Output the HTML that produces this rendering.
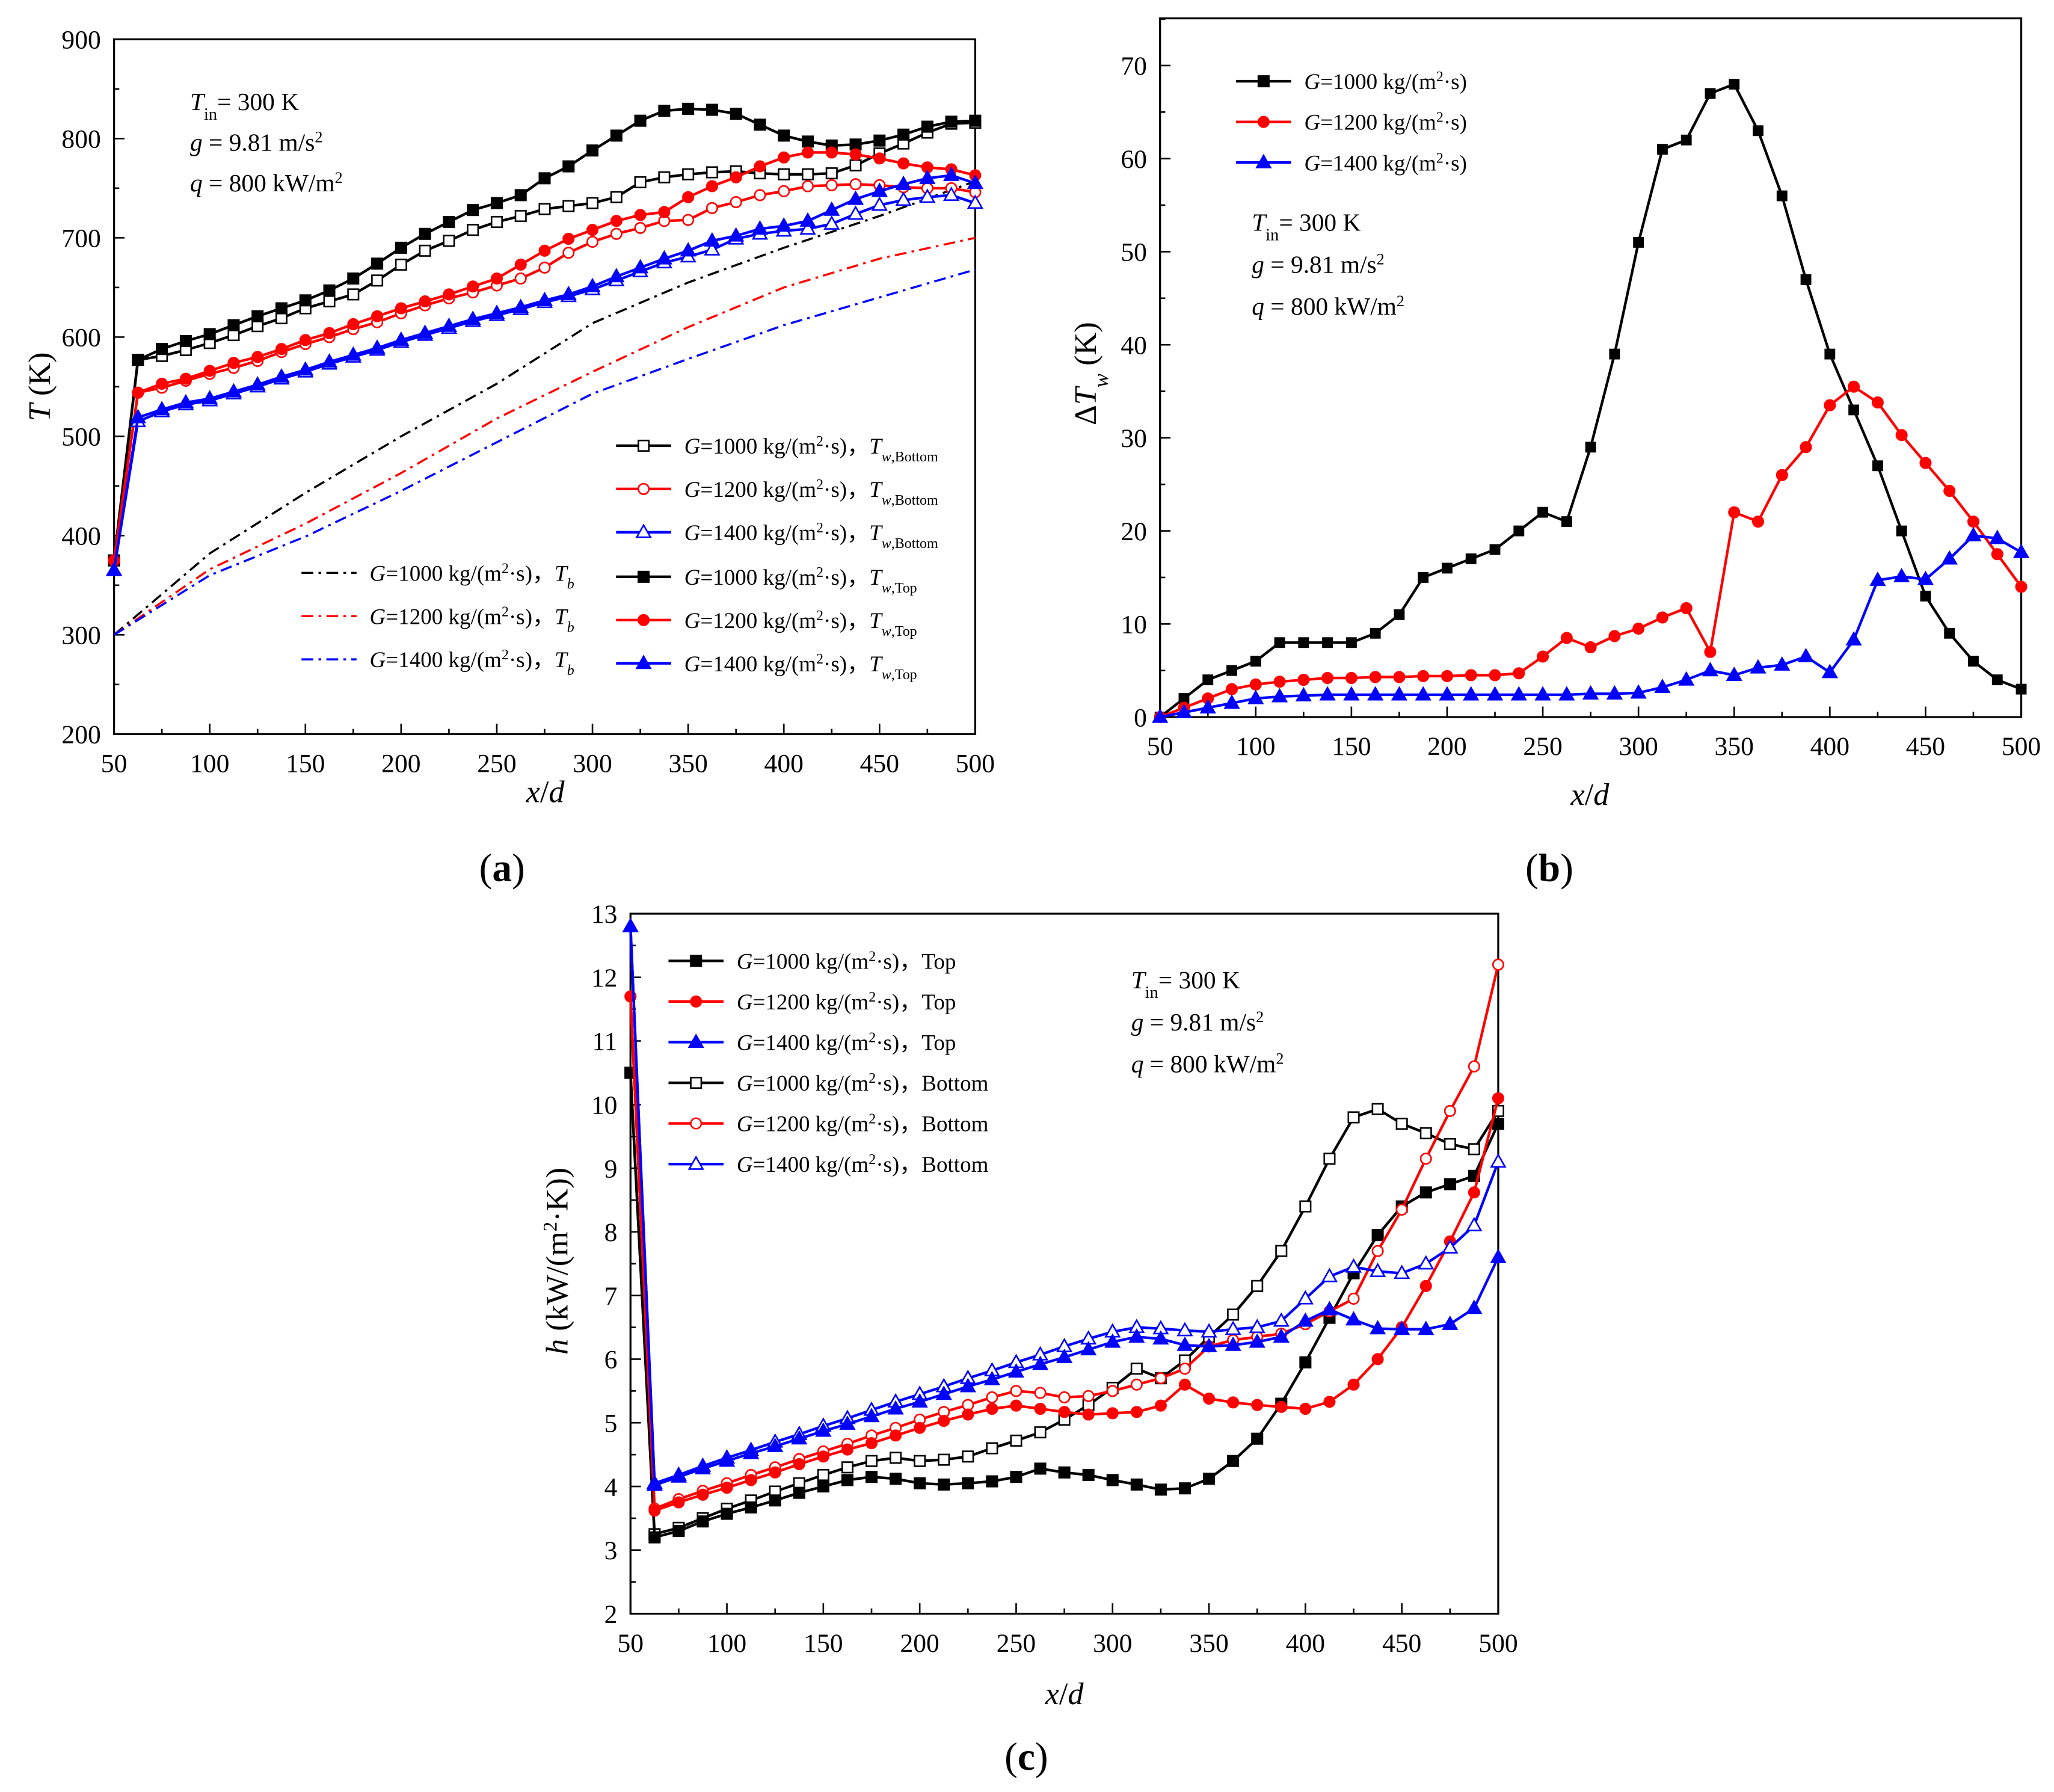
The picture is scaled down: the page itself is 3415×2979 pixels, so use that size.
<!DOCTYPE html>
<html><head><meta charset="utf-8"><style>
html,body{margin:0;padding:0;background:#fff;}
svg{display:block;font-family:"Liberation Serif",serif;}
</style></head><body>
<svg id="fig" width="3415" height="2979" viewBox="0 0 1567 1367" preserveAspectRatio="none" xmlns="http://www.w3.org/2000/svg"></svg>
<script>
// ---------- data ----------
const xs = [50,62.5,75,87.5,100,112.5,125,137.5,150,162.5,175,187.5,200,212.5,225,237.5,250,262.5,275,287.5,300,312.5,325,337.5,350,362.5,375,387.5,400,412.5,425,437.5,450,462.5,475,487.5,500];
const xsTb = [50,100,150,200,250,300,350,400,450,500];
// panel a
const aTop1000 = [375,577,588,596,603,612,621,629,637,647,659,674,690,704,716,728,735,743,760,772,788,803,818,828,830,829,825,814,803,797,793,794,798,804,812,817,818];
const aBot1000 = [375,577,581,587,594,602,611,619,629,636,643,657,673,687,697,708,716,722,729,732,735,741,756,761,764,766,767,765,764,764,765,773,785,795,806,815,816];
const aTop1200 = [375,544,553,558,566,574,580,588,597,604,613,621,629,636,643,651,659,673,687,699,708,717,723,726,741,752,761,772,781,786,786,784,780,775,771,769,763];
const aBot1200 = [375,544,549,556,563,569,576,585,593,600,608,615,624,632,639,645,652,659,670,685,696,704,710,717,718,730,736,743,747,752,753,754,753,751,750,750,746];
const aTop1400 = [365,519,527,534,538,545,552,560,567,575,582,589,597,604,611,618,624,630,637,643,651,661,670,679,687,697,702,709,712,717,728,739,747,754,760,763,755];
const aBot1400 = [365,515,525,532,536,543,550,558,565,573,580,587,595,602,609,616,622,628,635,641,648,657,666,675,681,688,699,704,707,709,714,724,733,738,741,743,735];
const aTb1000 = [300,382,443,500,553,614,655,690,722,757];
const aTb1200 = [300,366,412,463,518,565,610,650,679,700];
const aTb1400 = [300,360,399,445,494,543,578,612,640,668];
// panel b
const bD1000 = [0,2,4,5,6,8,8,8,8,9,11,15,16,17,18,20,22,21,29,39,51,61,62,67,68,63,56,47,39,33,27,20,13,9,6,4,3];
const bD1200 = [0,1,2,3,3.5,3.8,4,4.2,4.2,4.3,4.3,4.4,4.4,4.5,4.5,4.7,6.5,8.5,7.5,8.7,9.5,10.7,11.7,7,22,21,26,29,33.5,35.5,33.8,30.3,27.3,24.3,21,17.5,14];
const bD1400 = [0,0.5,1,1.5,2,2.2,2.3,2.4,2.4,2.4,2.4,2.4,2.4,2.4,2.4,2.4,2.4,2.4,2.5,2.5,2.6,3.2,4,5,4.5,5.3,5.6,6.5,4.8,8.3,14.7,15.1,14.8,17,19.5,19.2,17.7];
// panel c
const cTop1000 = [10.5,3.2,3.3,3.45,3.57,3.67,3.78,3.9,4.0,4.1,4.15,4.12,4.05,4.03,4.05,4.08,4.15,4.28,4.22,4.18,4.1,4.03,3.95,3.97,4.12,4.4,4.75,5.3,5.95,6.65,7.35,7.95,8.4,8.62,8.75,8.88,9.7];
const cBot1000 = [10.5,3.25,3.35,3.5,3.65,3.78,3.92,4.05,4.18,4.3,4.4,4.45,4.4,4.42,4.47,4.6,4.72,4.85,5.05,5.28,5.55,5.85,5.7,5.98,6.35,6.7,7.15,7.7,8.4,9.15,9.8,9.93,9.7,9.55,9.38,9.3,9.9];
const cTop1200 = [11.7,3.62,3.75,3.87,3.98,4.1,4.22,4.35,4.47,4.58,4.68,4.8,4.92,5.03,5.13,5.22,5.27,5.22,5.17,5.13,5.15,5.17,5.27,5.6,5.38,5.32,5.28,5.25,5.22,5.33,5.6,6.0,6.5,7.15,7.85,8.62,10.1];
const cBot1200 = [11.7,3.65,3.8,3.93,4.05,4.18,4.3,4.43,4.55,4.67,4.8,4.92,5.05,5.17,5.28,5.4,5.5,5.47,5.4,5.42,5.5,5.6,5.7,5.85,6.2,6.3,6.35,6.4,6.55,6.75,6.95,7.7,8.35,9.15,9.9,10.6,12.2];
const cTop1400 = [12.8,4.02,4.15,4.28,4.4,4.52,4.63,4.75,4.87,4.98,5.1,5.22,5.33,5.45,5.57,5.68,5.8,5.92,6.03,6.15,6.27,6.35,6.32,6.22,6.2,6.22,6.27,6.35,6.6,6.78,6.62,6.48,6.47,6.47,6.55,6.8,7.6];
const cBot1400 = [12.8,4.05,4.18,4.32,4.45,4.57,4.7,4.82,4.95,5.07,5.2,5.33,5.45,5.57,5.7,5.82,5.95,6.07,6.2,6.32,6.43,6.5,6.48,6.45,6.43,6.47,6.5,6.6,6.95,7.3,7.45,7.38,7.35,7.5,7.75,8.1,9.1];
const xTicks = [50,100,150,200,250,300,350,400,450,500];
const aYTicks = [200,300,400,500,600,700,800,900];
const bYTicks = [0,10,20,30,40,50,60,70];
const cYTicks = [2,3,4,5,6,7,8,9,10,11,12,13];

// ---------- helpers ----------
const NS = "http://www.w3.org/2000/svg";
const svg = document.getElementById('fig');
function mk(tag, attrs, parent){
  const e = document.createElementNS(NS, tag);
  for (const k in attrs) e.setAttribute(k, attrs[k]);
  (parent||svg).appendChild(e);
  return e;
}
function makeScale(d0,d1,r0,r1){ return v => r0 + (v-d0)/(d1-d0)*(r1-r0); }

function axes(g, P, xS, yS, yT, yMinorStep, yMin, yMax, name){
  const fr = mk('rect',{x:P.l,y:P.t,width:P.r-P.l,height:P.b-P.t,fill:'none',stroke:'#000','stroke-width':1.5},g);
  
  
  for (let v=50; v<=500; v+=25){
    const x = xS(v), len = (v%50===0)?8:4;
    mk('line',{x1:x,y1:P.b,x2:x,y2:P.b-len,stroke:'#000','stroke-width':1.2},g);
  }
  xTicks.forEach(v=>{
    const t = mk('text',{x:xS(v),y:P.b+29,'text-anchor':'middle','font-size':20},g);
    t.textContent = v;
    
    
  });
  for (let v=yMin; v<=yMax+1e-9; v+=yMinorStep){
    const y = yS(v), major = yT.some(m=>Math.abs(m-v)<1e-9), len = major?8:4;
    mk('line',{x1:P.l,y1:y,x2:P.l+len,y2:y,stroke:'#000','stroke-width':1.2},g);
  }
  yT.forEach(v=>{
    const t = mk('text',{x:P.l-10,y:yS(v)+7,'text-anchor':'end','font-size':20},g);
    t.textContent = v;
    
    
  });
}
function marker(g, type, open, color, x, y, s){
  const fill = open ? '#fff' : color;
  let m;
  if (type==='sq') m = mk('rect',{x:x-s/2,y:y-s/2,width:s,height:s,fill:fill,stroke:color,'stroke-width':1.2},g);
  else if (type==='ci') m = mk('circle',{cx:x,cy:y,r:s/2,fill:fill,stroke:color,'stroke-width':1.2},g);
  else m = mk('polygon',{points:`${x},${y-s*0.6} ${x-s*0.58},${y+s*0.42} ${x+s*0.58},${y+s*0.42}`,fill:fill,stroke:color,'stroke-width':1.2},g);
  return m;
}
function series(g, X, Y, xS, yS, color, type, open, name, s, dash){
  const pts = X.map((v,i)=>xS(v).toFixed(2)+','+yS(Y[i]).toFixed(2)).join(' ');
  const pl = mk('polyline',{points:pts,fill:'none',stroke:color,'stroke-width':dash?1.6:2,'stroke-linejoin':'round'},g);
  if (dash) pl.setAttribute('stroke-dasharray', dash);
  
  
  if (type){
    X.forEach((v,i)=>{
      const m = marker(g,type,open,color,xS(v),yS(Y[i]),s);
      
      
    });
  }
}
function txt(g, x, y, html, size, name, anchor){
  const t = mk('text',{x:x,y:y,'font-size':size,'text-anchor':anchor||'start'},g);
  t.innerHTML = html;
  
  
  return t;
}
function legendEntry(g, x, y, color, type, open, dash, label, name, s){
  const l = mk('line',{x1:x,y1:y,x2:x+42,y2:y,stroke:color,'stroke-width':dash?1.6:2},g);
  if (dash) l.setAttribute('stroke-dasharray', dash);
  if (type) marker(g,type,open,color,x+21,y,s);
  txt(g, x+52, y+6, label, 17, name);
  
  
}
const G = (n)=>`<tspan font-style="italic">G</tspan>=${n} kg/(m<tspan baseline-shift="super" font-size="11">2</tspan>·s)`;
function params(g, x, y0, dy, name){
  txt(g,x,y0,'<tspan font-style="italic">T</tspan><tspan baseline-shift="sub" font-size="13">in</tspan>= 300 K',19,name+'-tin');
  txt(g,x,y0+dy,'<tspan font-style="italic">g</tspan> = 9.81 m/s<tspan baseline-shift="super" font-size="12">2</tspan>',19,name+'-g');
  txt(g,x,y0+2*dy,'<tspan font-style="italic">q</tspan> = 800 kW/m<tspan baseline-shift="super" font-size="12">2</tspan>',19,name+'-q');
}
const DD = '9,4,2,4';

// ---------- panel a ----------
{
  const g = mk('g',{});  
  const P = {l:87,r:744,t:30,b:560};
  const xS = makeScale(50,500,P.l,P.r), yS = makeScale(200,900,P.b,P.t);
  axes(g,P,xS,yS,aYTicks,50,200,900,'panel-a');
  series(g,xsTb,aTb1000,xS,yS,'#000',null,false,'a-tb-1000',0,DD);
  series(g,xsTb,aTb1200,xS,yS,'#f00',null,false,'a-tb-1200',0,DD);
  series(g,xsTb,aTb1400,xS,yS,'#00f',null,false,'a-tb-1400',0,DD);
  series(g,xs,aBot1000,xS,yS,'#000','sq',true,'a-bottom-1000',8);
  series(g,xs,aTop1000,xS,yS,'#000','sq',false,'a-top-1000',8);
  series(g,xs,aBot1200,xS,yS,'#f00','ci',true,'a-bottom-1200',8);
  series(g,xs,aTop1200,xS,yS,'#f00','ci',false,'a-top-1200',8);
  series(g,xs,aBot1400,xS,yS,'#00f','tr',true,'a-bottom-1400',9);
  series(g,xs,aTop1400,xS,yS,'#00f','tr',false,'a-top-1400',9);
  params(g,145,84,31,'a-param');
  const sub = (s)=>`，<tspan font-style="italic">T</tspan><tspan baseline-shift="sub" font-size="11"><tspan font-style="italic">w</tspan>,${s}</tspan>`;
  legendEntry(g,470,340,'#000','sq',true,null,G(1000)+sub('Bottom'),'legend-a-bottom-1000',8);
  legendEntry(g,470,373,'#f00','ci',true,null,G(1200)+sub('Bottom'),'legend-a-bottom-1200',8);
  legendEntry(g,470,406,'#00f','tr',true,null,G(1400)+sub('Bottom'),'legend-a-bottom-1400',9);
  legendEntry(g,470,440,'#000','sq',false,null,G(1000)+sub('Top'),'legend-a-top-1000',8);
  legendEntry(g,470,473,'#f00','ci',false,null,G(1200)+sub('Top'),'legend-a-top-1200',8);
  legendEntry(g,470,506,'#00f','tr',false,null,G(1400)+sub('Top'),'legend-a-top-1400',9);
  const tb = `，<tspan font-style="italic">T</tspan><tspan baseline-shift="sub" font-size="11" font-style="italic">b</tspan>`;
  legendEntry(g,230,437,'#000',null,false,DD,G(1000)+tb,'legend-a-tb-1000',0);
  legendEntry(g,230,470,'#f00',null,false,DD,G(1200)+tb,'legend-a-tb-1200',0);
  legendEntry(g,230,503,'#00f',null,false,DD,G(1400)+tb,'legend-a-tb-1400',0);
  txt(g,416,612,'<tspan font-style="italic">x</tspan>/<tspan font-style="italic">d</tspan>',24,'a-x-axis-title','middle');
  const yt = txt(g,0,0,'<tspan font-style="italic">T</tspan> (K)',24,'a-y-axis-title','middle');
  yt.setAttribute('transform','translate(38,295) rotate(-90)');
  txt(g,383,672,'(<tspan font-weight="bold">a</tspan>)',30,'panel-a-label','middle');
}
// ---------- panel b ----------
{
  const g = mk('g',{});  
  const P = {l:885,r:1542,t:14,b:547};
  const yS = makeScale(0,70,547,50), xS = makeScale(50,500,P.l,P.r);
  axes(g,P,xS,yS,bYTicks,5,0,75,'panel-b');
  series(g,xs,bD1000,xS,yS,'#000','sq',false,'b-dtw-1000',7);
  series(g,xs,bD1200,xS,yS,'#f00','ci',false,'b-dtw-1200',8);
  series(g,xs,bD1400,xS,yS,'#00f','tr',false,'b-dtw-1400',9);
  legendEntry(g,943,62,'#000','sq',false,null,G(1000),'legend-b-1000',8);
  legendEntry(g,943,93,'#f00','ci',false,null,G(1200),'legend-b-1200',8);
  legendEntry(g,943,124,'#00f','tr',false,null,G(1400),'legend-b-1400',9);
  params(g,955,176,32,'b-param');
  txt(g,1213,614,'<tspan font-style="italic">x</tspan>/<tspan font-style="italic">d</tspan>',24,'b-x-axis-title','middle');
  const yt = txt(g,0,0,'Δ<tspan font-style="italic">T</tspan><tspan baseline-shift="sub" font-size="16" font-style="italic">w</tspan> (K)',24,'b-y-axis-title','middle');
  yt.setAttribute('transform','translate(836,285) rotate(-90)');
  txt(g,1182,672,'(<tspan font-weight="bold">b</tspan>)',30,'panel-b-label','middle');
}
// ---------- panel c ----------
{
  const g = mk('g',{});  
  const P = {l:481,r:1143,t:697,b:1231};
  const xS = makeScale(50,500,P.l,P.r), yS = makeScale(2,13,P.b,P.t);
  axes(g,P,xS,yS,cYTicks,0.5,2,13,'panel-c');
  series(g,xs,cBot1000,xS,yS,'#000','sq',true,'c-bottom-1000',8);
  series(g,xs,cTop1000,xS,yS,'#000','sq',false,'c-top-1000',8);
  series(g,xs,cBot1200,xS,yS,'#f00','ci',true,'c-bottom-1200',8);
  series(g,xs,cTop1200,xS,yS,'#f00','ci',false,'c-top-1200',8);
  series(g,xs,cBot1400,xS,yS,'#00f','tr',true,'c-bottom-1400',9);
  series(g,xs,cTop1400,xS,yS,'#00f','tr',false,'c-top-1400',9);
  legendEntry(g,510,733,'#000','sq',false,null,G(1000)+'，Top','legend-c-top-1000',8);
  legendEntry(g,510,764,'#f00','ci',false,null,G(1200)+'，Top','legend-c-top-1200',8);
  legendEntry(g,510,795,'#00f','tr',false,null,G(1400)+'，Top','legend-c-top-1400',9);
  legendEntry(g,510,826,'#000','sq',true,null,G(1000)+'，Bottom','legend-c-bottom-1000',8);
  legendEntry(g,510,857,'#f00','ci',true,null,G(1200)+'，Bottom','legend-c-bottom-1200',8);
  legendEntry(g,510,888,'#00f','tr',true,null,G(1400)+'，Bottom','legend-c-bottom-1400',9);
  params(g,863,754,32,'c-param');
  txt(g,812,1300,'<tspan font-style="italic">x</tspan>/<tspan font-style="italic">d</tspan>',24,'c-x-axis-title','middle');
  const yt = txt(g,0,0,'<tspan font-style="italic">h</tspan>  (kW/(m<tspan baseline-shift="super" font-size="15">2</tspan>·K))',24,'c-y-axis-title','middle');
  yt.setAttribute('transform','translate(433,962) rotate(-90)');
  txt(g,783,1350,'(<tspan font-weight="bold">c</tspan>)',30,'panel-c-label','middle');
}
</script>
</body></html>
